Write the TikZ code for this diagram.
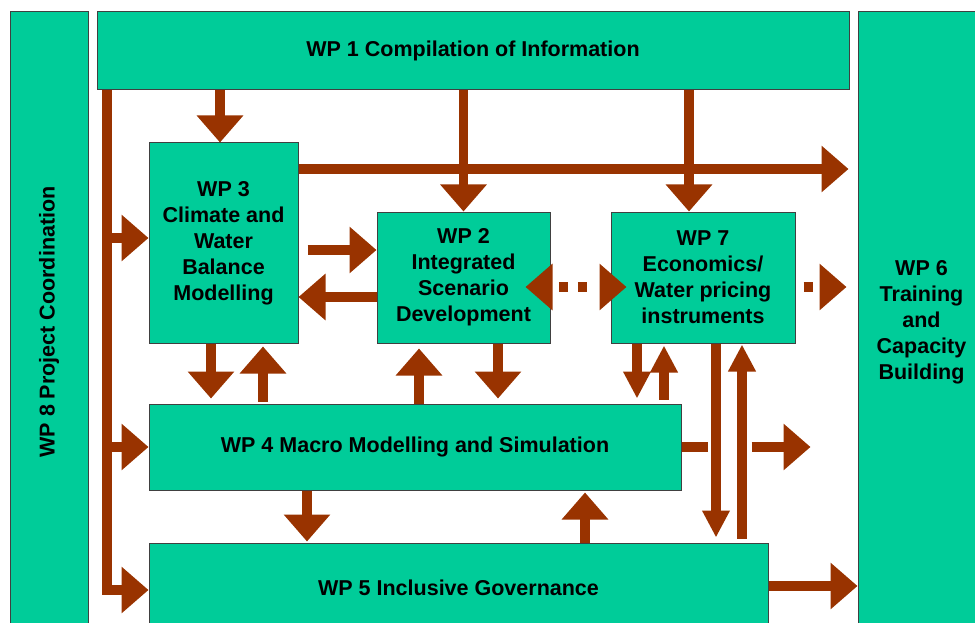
\documentclass[tikz,border=0pt]{standalone}
\usepackage{fontspec}
\setmainfont{Liberation Sans}
\usetikzlibrary{arrows.meta}
\definecolor{wpgreen}{RGB}{0,204,153}
\definecolor{wpbrown}{RGB}{153,51,0}
\tikzset{
x=1pt, y=-1pt, % one unit per pixel, y runs downwards
wp/.style={draw=black!75, line width=1pt, fill=wpgreen, align=center, inner sep=0pt,
  font=\fontsize{21.5pt}{26pt}\selectfont\bfseries}, % the work package boxes
flow/.style={draw=wpbrown, line width=9.5pt, -{Triangle[width=45pt,length=27pt]}}, % block arrows
thin flow/.style={flow, -{Triangle[width=26pt,length=27pt]}}, % narrow heads below WP 7
bus/.style={flow, line join=miter}, % the line down the left side
}

\begin{document}
\begin{tikzpicture}
		\clip (0,0) rectangle (975,623);
		\node[wp, minimum width=752pt, minimum height=78pt] (wp1) at (473,51) {WP 1 Compilation of Information};
		\node[wp, rotate=90, minimum width=620pt, minimum height=78pt] (wp8) at (49,322) {WP 8 Project Coordination};
		\node[wp, minimum width=127pt, minimum height=620pt] (wp6) at (921.5,322) {WP 6\\Training\\and\\Capacity\\Building};
		\node[wp, minimum width=149pt, minimum height=200pt] (wp3) at (223.5,243) {WP 3\\Climate and\\Water\\Balance\\Modelling};
		\node[wp, minimum width=173pt, minimum height=131pt] (wp2) at (463.5,277.5) {WP 2\\Integrated\\Scenario\\Development};
		\node[wp, minimum width=184pt, minimum height=131pt] (wp7) at (703,277.5) {WP 7\\Economics/\\Water pricing\\instruments};
		\node[wp, minimum width=532pt, minimum height=86pt] (wp4) at (415,447) {WP 4 Macro Modelling and Simulation};
		\node[wp, minimum width=619pt, minimum height=89pt] (wp5) at (458.5,587.5) {WP 5 Inclusive Governance};

		% left side
		\coordinate (b3) at (107,238);
		\coordinate (b4) at (107,447);
		\draw[bus] (wp1.south -| b3) |- (wp5.west |- 0,590);
		\draw[flow] (b3) -- (wp3.west |- b3);
		\draw[flow] (b4) -- (wp4.west);

		% from WP 1
		\draw[flow] (wp1.south -| 220,0) -- (wp3.north -| 220,0);
		\draw[flow] (wp1.south -| wp2.north) -- (wp2.north);
		\draw[flow] (wp1.south -| 689,0) -- (wp7.north -| 689,0);

		% middle row
		\draw[flow, shorten >=9pt] (wp3.east |- 0,169) -- (wp6.west |- 0,169);
		\draw[flow, shorten <=9pt] (wp3.east |- 0,250) -- (wp2.west |- 0,250);
		\draw[flow] (wp2.west |- 0,297) -- (wp3.east |- 0,297);
		\draw[flow, {Triangle[width=45pt,length=27pt]}-{Triangle[width=45pt,length=27pt]},
			shorten <=-25pt, shorten >=-16pt, dash pattern=on 9pt off 10pt on 9pt off 21pt, dash phase=41pt]
			(wp2.east |- 0,287) -- (wp7.west |- 0,287);
		\draw[flow, shorten <=8pt, shorten >=11pt, dash pattern=on 9pt off 20pt] (wp7.east |- 0,287) -- (wp6.west |- 0,287);

		% between the rows
		\draw[flow, shorten >=5pt] (wp3.south -| 211,0) -- (wp4.north -| 211,0);
		\draw[flow, shorten <=2pt, shorten >=3pt] (wp4.north -| 263,0) -- (wp3.south -| 263,0);
		\draw[flow, shorten >=5pt] (wp4.north -| 419,0) -- (wp2.south -| 419,0);
		\draw[flow, shorten >=5pt] (wp2.south -| 498,0) -- (wp4.north -| 498,0);
		\draw[thin flow, shorten >=5pt] (wp7.south -| 637,0) -- (wp4.north -| 637,0);
		\draw[thin flow, shorten <=4pt, shorten >=2pt] (wp4.north -| 664,0) -- (wp7.south -| 664,0);
		\draw[thin flow, shorten >=5pt] (wp7.south -| 716,0) -- (wp5.north -| 716,0);
		\draw[thin flow, shorten <=4pt, shorten >=1pt] (wp5.north -| 742,0) -- (wp7.south -| 742,0);
		\draw[flow, shorten >=47pt, dash pattern=on 26pt off 44pt on 60pt] (wp4.east) -- (wp6.west |- wp4.east);
		\draw[flow, shorten >=1pt] (wp4.south -| 307,0) -- (wp5.north -| 307,0);
		\draw[flow, shorten >=2pt] (wp5.north -| 585,0) -- (wp4.south -| 585,0);
		\draw[flow] (wp5.east |- 0,586) -- (wp6.west |- 0,586);
	\end{tikzpicture}
\end{document}
